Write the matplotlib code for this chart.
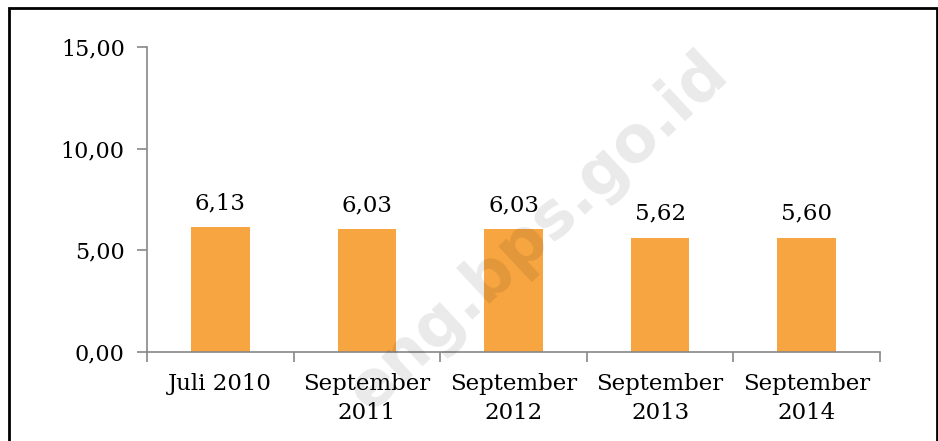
import matplotlib
matplotlib.use("Agg")
import matplotlib.pyplot as plt
from matplotlib.patches import Rectangle

categories = ["Juli 2010", "September\n2011", "September\n2012",
              "September\n2013", "September\n2014"]
values = [6.13, 6.03, 6.03, 5.62, 5.60]
y_ticks = [0, 5, 10, 15]

plt.rcParams['font.family'] = ['DejaVu Serif']

fig = plt.figure(figsize=(9.38, 4.41), dpi=100)
ax = fig.add_axes([147 / 938, 1 - 352 / 441, (880 - 147) / 938, (352 - 47) / 441])

x = range(len(values))
ax.bar(x, values, width=0.4, color='#F7A541', zorder=2)

for i, v in enumerate(values):
    ax.text(i, v + 0.65, f"{v:.2f}".replace(".", ","), ha='center',
            va='bottom', fontsize=16.5)

ax.set_xlim(-0.5, len(values) - 0.5)
ax.set_ylim(0, 15)
ax.set_yticks(y_ticks)
ax.set_yticklabels([f"{t:.2f}".replace(".", ",") for t in y_ticks], fontsize=16)
ax.set_xticks([i - 0.5 for i in range(len(values) + 1)], minor=False)
ax.set_xticklabels([])
ax.set_xticks(list(x), minor=True)
ax.set_xticklabels(categories, minor=True, fontsize=16.5, linespacing=1.45)
ax.tick_params(axis='x', which='minor', length=0, pad=15)
ax.tick_params(axis='x', which='major', length=7, color='#888888', width=1.2)
ax.tick_params(axis='y', length=7, color='#888888', width=1.2, pad=9)

for side in ['top', 'right']:
    ax.spines[side].set_visible(False)
for side in ['left', 'bottom']:
    ax.spines[side].set_color('#888888')
    ax.spines[side].set_linewidth(1.2)

# watermark
fig.text(538 / 938, 1 - 232 / 441, "eng.bps.go.id", fontsize=46,
         fontweight='bold', family='DejaVu Sans', color='black', alpha=0.085,
         rotation=43, ha='center', va='center', zorder=5)

# outer border
fig.patches.append(Rectangle((9 / 938, -0.05), (937 - 9) / 938, 1.05 - 8 / 441,
                             transform=fig.transFigure, fill=False,
                             edgecolor='black', linewidth=2))

fig.savefig("out.png", dpi=100)
